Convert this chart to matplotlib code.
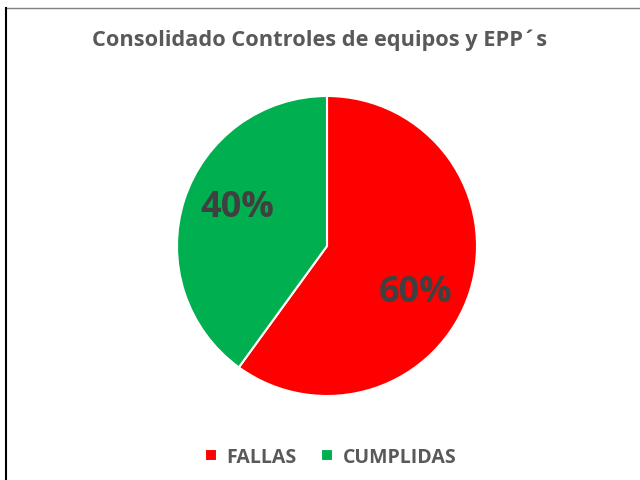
import matplotlib.pyplot as plt
from matplotlib.lines import Line2D

titulo = "Consolidado Controles de equipos y EPP´s"
categorias = ["FALLAS", "CUMPLIDAS"]
valores = [60, 40]
colores = ["#FF0000", "#00B050"]

plt.rcParams['font.family'] = ['Open Sans', 'DejaVu Sans']

W, H = 640, 481
fig = plt.figure(figsize=(W / 100, H / 100), dpi=100)

# pie area: center ~ (327, 247), radius ~150 px
cx, cy, r = 327, 247, 150
ax = fig.add_axes([(cx - r) / W, (H - cy - r) / H, 2 * r / W, 2 * r / H])
wedges, texts, autotexts = ax.pie(
    valores, colors=colores, startangle=90, counterclock=False,
    autopct='%1.0f%%', pctdistance=0.68, radius=1,
    wedgeprops=dict(edgecolor='white', linewidth=1.5),
    textprops=dict(color='#404040', fontsize=26, fontweight='bold'))
# nudge the percentage labels to where Excel put them
label_pos = [(0.59, -0.31), (-0.60, 0.26)]
for t, p in zip(autotexts, label_pos):
    t.set_position(p)
ax.set_xlim(-1, 1)
ax.set_ylim(-1, 1)
ax.set_aspect('equal')

fig.text(0.5, 1 - 40 / H, titulo, ha='center', va='center',
         fontsize=15.7, fontweight='bold', color='#595959')

fig.legend(wedges, categorias, loc='center', bbox_to_anchor=(0.517, 1 - 458 / H),
           ncol=2, frameon=False, handlelength=0.6, handleheight=0.6,
           handletextpad=0.5, columnspacing=1.25,
           prop=dict(size=14, weight='bold'), labelcolor='#595959')

# chart border lines seen in the screenshot
fig.add_artist(Line2D([6 / W, 1], [1 - 9 / H, 1 - 9 / H], color='#808080', lw=1))
fig.add_artist(Line2D([6 / W, 6 / W], [0, 1 - 9 / H], color='black', lw=1.5))

fig.savefig('out.png', dpi=100)
